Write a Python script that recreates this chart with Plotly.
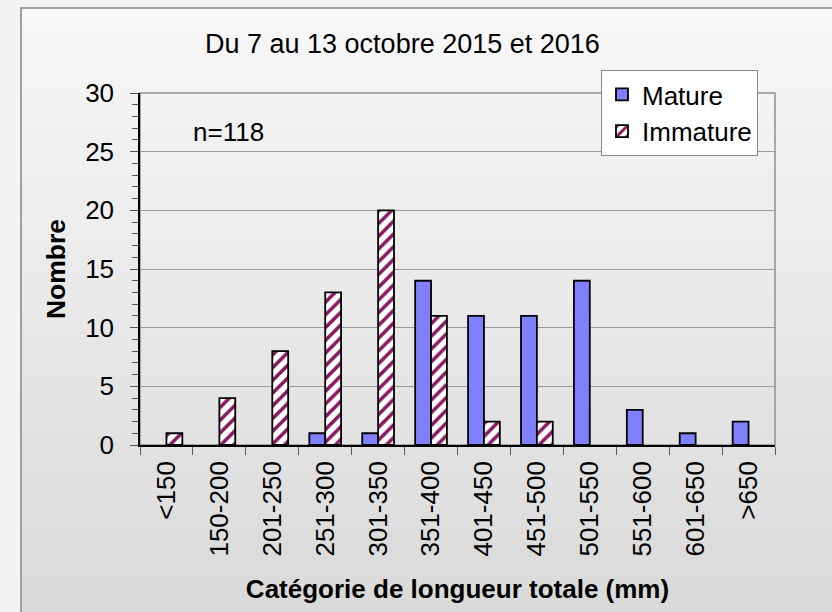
import plotly.graph_objects as go

categories = ["<150", "150-200", "201-250", "251-300", "301-350", "351-400",
              "401-450", "451-500", "501-550", "551-600", "601-650", ">650"]
mature = [0, 0, 0, 1, 1, 14, 11, 11, 14, 3, 1, 2]
immature = [1, 4, 8, 13, 20, 11, 2, 2, 0, 0, 0, 0]

FONT = "Arial, Liberation Sans, sans-serif"
W, H = 832, 612
L, R, T, B = 140, 775, 93, 445


def px_x(x):
    return (x - L) / (R - L)


def px_y(y):
    return (B - y) / (B - T)


def nz(vals):
    # Excel does not draw zero-height bars
    return [v if v else None for v in vals]


fig = go.Figure()
fig.add_trace(go.Bar(
    x=categories, y=nz(mature), name="Mature",
    marker=dict(color="#8080FF", line=dict(color="black", width=1.8)),
))
fig.add_trace(go.Bar(
    x=categories, y=nz(immature), name="Immature",
    marker=dict(color="white", line=dict(color="black", width=1.8),
                pattern=dict(shape="/", fgcolor="#851A5E", bgcolor="white",
                             size=9, solidity=0.4, fillmode="replace")),
))

shapes = []
# gradient background inside the outer frame
top, bot = 8, 620
n = 40
c_top, c_bot = 0xF8, 0xD9
for i in range(n):
    y0 = top + (bot - top) * i / n
    y1 = top + (bot - top) * (i + 1) / n + 1
    c = round(c_top + (c_bot - c_top) * (i + 0.5) / n)
    col = f"rgb({c},{c},{c})"
    shapes.append(dict(type="rect", xref="paper", yref="paper", layer="below",
                       x0=px_x(21), x1=px_x(840), y0=px_y(y1), y1=px_y(y0),
                       fillcolor=col, line=dict(width=0)))
# outer frame border
shapes.append(dict(type="rect", xref="paper", yref="paper", layer="below",
                   x0=px_x(21), x1=px_x(845), y0=px_y(625), y1=px_y(8),
                   fillcolor="rgba(0,0,0,0)", line=dict(color="#A0A0A0", width=2)))
# plot area border
shapes.append(dict(type="rect", xref="paper", yref="paper", layer="below",
                   x0=0, x1=1, y0=0, y1=1,
                   fillcolor="rgba(0,0,0,0)", line=dict(color="#909090", width=1.5)))

fig.update_layout(
    width=W, height=H,
    margin=dict(l=L, r=W - R, t=T, b=H - B),
    paper_bgcolor="#F4F4F4",
    plot_bgcolor="rgba(0,0,0,0)",
    font=dict(family=FONT, size=26, color="black"),
    barmode="group", bargap=0.4, bargroupgap=0,
    shapes=shapes,
    title=dict(text="Du 7 au 13 octobre 2015 et 2016", x=205 / W, xanchor="left",
               y=1 - 44 / H, yanchor="middle", font=dict(size=27)),
    legend=dict(x=px_x(601), y=px_y(70), xanchor="left", yanchor="top",
                bgcolor="white", bordercolor="#888888", borderwidth=1,
                font=dict(size=26), tracegroupgap=0, itemwidth=30),
    annotations=[dict(text="n=118", xref="paper", yref="paper",
                      x=px_x(228), y=px_y(132), xanchor="center", yanchor="middle",
                      showarrow=False, font=dict(size=26))],
    showlegend=True,
)
fig.update_xaxes(
    type="category", showline=True, linecolor="black", linewidth=1.5,
    ticks="outside", tickson="boundaries", ticklen=8, tickcolor="#555555",
    tickangle=-90, tickfont=dict(size=26), automargin=False,
    ticklabelstandoff=4,
    title=dict(text="<b>Catégorie de longueur totale (mm)</b>", standoff=24,
               font=dict(size=26)),
)
fig.update_yaxes(
    range=[0, 30], dtick=5, showline=True, linecolor="black", linewidth=1.5,
    ticks="outside", ticklen=8, tickcolor="#555555", tickfont=dict(size=26),
    showgrid=True, gridcolor="#9A9A9A", gridwidth=1, zeroline=False,
    minor=dict(dtick=1, ticks="outside", ticklen=6, tickcolor="#555555", showgrid=False),
    ticklabelstandoff=11, automargin=False,
    title=dict(text="<b>Nombre</b>", standoff=12, font=dict(size=26.5)),
)
fig.write_html("out.html", config={"displayModeBar": False},
               post_script="document.body.style.margin='0px';")
